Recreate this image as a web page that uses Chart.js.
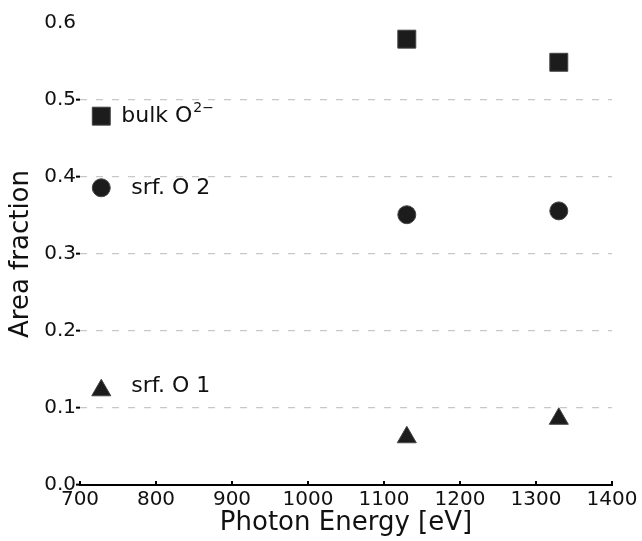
<!DOCTYPE html>
<html>
<head>
<meta charset="utf-8">
<script src="https://cdn.jsdelivr.net/npm/chart.js@4.4.1/dist/chart.umd.min.js"></script>
<style>
  html, body { margin: 0; padding: 0; background: #fff; }
  #wrap { width: 642px; height: 541px; }
</style>
</head>
<body>
<div id="wrap"><canvas id="c" width="642" height="541"></canvas></div>
<script>
// measured points
const energies = [1130, 1330];
const bulkO = [0.579, 0.549];
const srfO2 = [0.351, 0.356];
const srfO1 = [0.062, 0.086];

// in-plot key (marker + label)
const keyEnergy = 728;
const keyValues = [0.479, 0.386, 0.123];
const seriesNames = ['bulk O', 'srf. O 2', 'srf. O 1'];

const xTicks = [700, 800, 900, 1000, 1100, 1200, 1300, 1400];
const yTicks = [0.0, 0.1, 0.2, 0.3, 0.4, 0.5, 0.6];

const ink = '#1c1c1c';
const FONT = 'DejaVu Sans';

function pts(ys, k) {
  return [{ x: keyEnergy, y: keyValues[k] }].concat(energies.map((e, i) => ({ x: e, y: ys[i] })));
}

// labels next to the key markers
const keyLabels = {
  id: 'keyLabels',
  afterDatasetsDraw(chart) {
    const c = chart.ctx;
    const dx = [20, 30, 30];
    c.save();
    c.fillStyle = '#111';
    c.textBaseline = 'middle';
    c.textAlign = 'left';
    chart.data.datasets.forEach((ds, i) => {
      const p = chart.getDatasetMeta(i).data[0];
      const x = p.x + dx[i];
      const y = p.y - (i === 2 ? 4 : (i === 1 ? -1 : 0));
      c.font = '22px "' + FONT + '"';
      c.fillText(seriesNames[i], x, y);
      if (i === 0) {
        const w = c.measureText(seriesNames[i]).width;
        c.font = '14px "' + FONT + '"';
        c.fillText('2\u2212', x + w + 1, y - 8);
      }
    });
    c.restore();
  }
};

// inward tick marks on the x axis
const xInTicks = {
  id: 'xInTicks',
  afterDraw(chart) {
    const c = chart.ctx, sx = chart.scales.x, b = chart.chartArea.bottom;
    c.save();
    c.strokeStyle = '#000';
    c.lineWidth = 2;
    xTicks.forEach(v => {
      const x = Math.round(sx.getPixelForValue(v));
      c.beginPath();
      c.moveTo(x, b);
      c.lineTo(x, b - 4);
      c.stroke();
    });
    c.restore();
  }
};

const mk = (label, ys, k, style, r) => ({
  label, data: pts(ys, k), pointStyle: style, pointRadius: r, pointHoverRadius: r,
  backgroundColor: ink, borderColor: '#444', borderWidth: 1, showLine: false
});

new Chart(document.getElementById('c').getContext('2d'), {
  type: 'scatter',
  data: {
    datasets: [
      mk('bulk O2-', bulkO, 0, 'rect', 12.7),
      mk('srf. O 2', srfO2, 1, 'circle', 9),
      mk('srf. O 1', srfO1, 2, 'triangle', 11)
    ]
  },
  options: {
    responsive: false,
    animation: false,
    layout: { padding: { left: 0, right: 30, top: 23, bottom: 0 } },
    plugins: { legend: { display: false }, tooltip: { enabled: false } },
    scales: {
      x: {
        type: 'linear', min: 700, max: 1400,
        afterBuildTicks: s => { s.ticks = xTicks.map(v => ({ value: v })); },
        afterFit: s => { s.height = 56; },
        grid: { display: true, drawOnChartArea: false, drawTicks: false },
        border: { display: true, color: '#000', width: 2 },
        ticks: { color: '#111', font: { family: FONT, size: 20 }, padding: 3, maxRotation: 0,
                 callback: v => String(v) },
        title: { display: true, text: 'Photon Energy [eV]', color: '#111',
                 font: { family: FONT, size: 26 }, padding: { top: 0, bottom: 2 } }
      },
      y: {
        type: 'linear', min: 0, max: 0.6,
        afterBuildTicks: s => { s.ticks = yTicks.map(v => ({ value: v })); },
        afterFit: s => { s.width = 80; },
        border: { display: false, dash: [7, 9] },
        grid: {
          color: ctx => (ctx.tick && ctx.tick.value > 0.001 && ctx.tick.value < 0.59) ? '#c8c8c8' : 'rgba(0,0,0,0)',
          lineWidth: 1.3,
          tickBorderDash: [],
          tickColor: ctx => (ctx.tick && ctx.tick.value < 0.59) ? '#000' : 'rgba(0,0,0,0)',
          tickLength: 4,
          tickWidth: 2
        },
        ticks: {
          color: '#111', font: { family: FONT, size: 20 }, padding: 0,
          callback: v => v.toFixed(1)
        },
        title: { display: true, text: 'Area fraction', color: '#111',
                 font: { family: FONT, size: 26 }, padding: { top: 6, bottom: 0 } }
      }
    }
  },
  plugins: [keyLabels, xInTicks]
});
</script>
</body>
</html>
